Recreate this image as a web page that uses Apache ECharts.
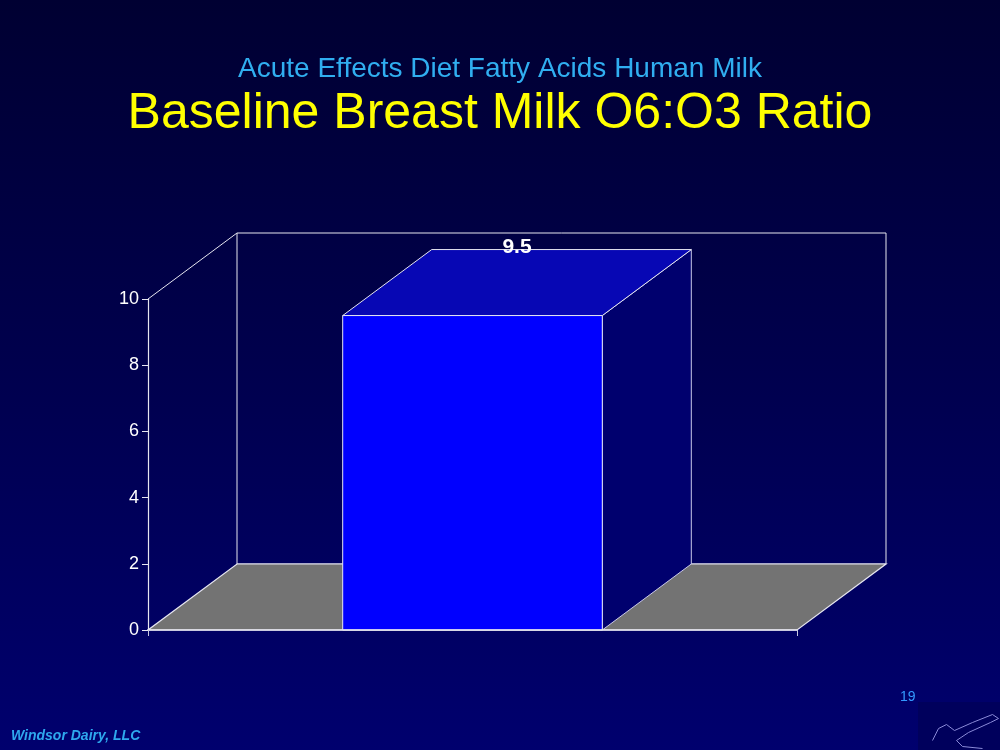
<!DOCTYPE html>
<html>
<head>
<meta charset="utf-8">
<script src="https://cdn.jsdelivr.net/npm/echarts@6/dist/echarts.min.js"></script>
<style>html,body{margin:0;padding:0;background:#000040;}#c{width:1000px;height:750px;}</style>
</head>
<body>
<div id="c"></div>
<script>
var categories = [''];
var values = [9.5];
var yTicks = { min: 0, max: 10, interval: 2 };
var subtitleText = 'Acute Effects Diet Fatty Acids Human Milk';
var titleText = 'Baseline Breast Milk O6:O3 Ratio';
var footerText = 'Windsor Dairy, LLC';
var pageNumber = '19';

var DX = 89, DY = -66;
var LINE = '#e6e6f0';
var FONT = 'Arial, "Liberation Sans", sans-serif';

var chart = echarts.init(document.getElementById('c'), null, { renderer: 'canvas' });

function renderFrame(params, api) {
  var c0 = api.coord([0, yTicks.min]);
  var c10 = api.coord([0, yTicks.max]);
  var bw = api.size([1, 0])[0];
  var L = c0[0] - bw / 2, R = c0[0] + bw / 2;
  var y0 = c0[1], y10 = c10[1];
  return {
    type: 'group',
    children: [
      { type: 'polygon', shape: { points: [[L + DX, y10 + DY], [R + DX, y10 + DY], [R + DX, y0 + DY], [L + DX, y0 + DY]] },
        style: { fill: 'none', stroke: LINE, lineWidth: 1 } },
      { type: 'line', shape: { x1: L, y1: y10, x2: L + DX, y2: y10 + DY }, style: { stroke: LINE, lineWidth: 1 } },
      { type: 'polygon', shape: { points: [[L, y0], [R, y0], [R + DX, y0 + DY], [L + DX, y0 + DY]] },
        style: { fill: '#737373', stroke: LINE, lineWidth: 1.2 } }
    ]
  };
}

function renderBar(params, api) {
  var idx = api.value(0), v = api.value(1);
  var top = api.coord([idx, v]);
  var base = api.coord([idx, 0]);
  var bw = api.size([1, 0])[0] * 0.4;
  var x0 = top[0] - bw / 2, x1 = top[0] + bw / 2;
  var yv = top[1], y0 = base[1];
  return {
    type: 'group',
    children: [
      { type: 'polygon', shape: { points: [[x1, yv], [x1 + DX, yv + DY], [x1 + DX, y0 + DY], [x1, y0]] },
        style: { fill: '#00006e', stroke: '#c8c8e8', lineWidth: 1 } },
      { type: 'polygon', shape: { points: [[x0, yv], [x1, yv], [x1 + DX, yv + DY], [x0 + DX, yv + DY]] },
        style: { fill: '#0707b4', stroke: LINE, lineWidth: 1 } },
      { type: 'rect', shape: { x: x0, y: yv, width: x1 - x0, height: y0 - yv },
        style: { fill: '#0000ff', stroke: LINE, lineWidth: 1 } },
      { type: 'text', x: top[0] + DX / 2, y: yv + DY - 2,
        style: { text: String(v), fill: '#ffffff', font: 'bold 21px ' + FONT, align: 'center', verticalAlign: 'middle' } }
    ]
  };
}

var option = {
  backgroundColor: {
    type: 'linear', x: 0, y: 0, x2: 0, y2: 1,
    colorStops: [{ offset: 0, color: '#000032' }, { offset: 0.5, color: '#00004e' }, { offset: 1, color: '#00006e' }]
  },
  animation: false,
  title: [
    { text: subtitleText, left: 'center', top: 50,
      textStyle: { color: '#30aef0', fontSize: 28, fontWeight: 'normal', fontFamily: FONT } },
    { text: titleText, left: 'center', top: 84,
      textStyle: { color: '#ffff00', fontSize: 50, fontWeight: 'normal', fontFamily: FONT } }
  ],
  grid: { left: 148, right: 203, top: 299, bottom: 120, containLabel: false },
  xAxis: {
    type: 'category', data: categories, boundaryGap: true,
    axisLine: { show: true, lineStyle: { color: LINE, width: 1.5 } },
    axisTick: { show: true, length: 6, lineStyle: { color: '#c8c8e0' } },
    axisLabel: { show: false },
    z: 5
  },
  yAxis: {
    type: 'value', min: yTicks.min, max: yTicks.max, interval: yTicks.interval,
    axisLine: { show: true, lineStyle: { color: LINE, width: 1.2 } },
    axisTick: { show: true, length: 6, lineStyle: { color: LINE } },
    axisLabel: { color: '#ffffff', fontSize: 18, margin: 9, fontFamily: FONT },
    splitLine: { show: false },
    z: 5
  },
  series: [
    { type: 'custom', renderItem: renderFrame, data: [[0]], z: 1, silent: true },
    { type: 'custom', renderItem: renderBar, data: values.map(function (v, i) { return [i, v]; }), z: 3,
      encode: { x: 0, y: 1 } }
  ],
  graphic: [
    { type: 'text', left: 11, top: 729,
      style: { text: footerText, fill: '#2ea8ee', font: 'italic bold 14px ' + FONT } },
    { type: 'text', left: 900, top: 690,
      style: { text: pageNumber, fill: '#3399ff', font: '14px ' + FONT } },
    { type: 'rect', left: 918, top: 702, shape: { width: 82, height: 48 },
      style: { fill: '#00005c' } },
    { type: 'polyline', left: 930, top: 712, silent: true,
      shape: { points: [[0, 30], [6, 18], [14, 14], [22, 20], [40, 12], [60, 4], [66, 8], [58, 12], [36, 22], [24, 30], [30, 36], [50, 38]] },
      style: { stroke: '#8a8ad8', lineWidth: 1, fill: 'none' } }
  ]
};
chart.setOption(option);
</script>
</body>
</html>
